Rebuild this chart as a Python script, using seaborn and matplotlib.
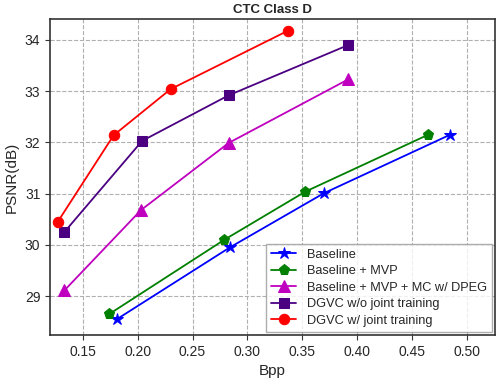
import numpy as np
import pandas as pd
import matplotlib
matplotlib.use('Agg')
import matplotlib.pyplot as plt
import seaborn as sns

# datos
names = ['Baseline', 'Baseline + MVP', 'Baseline + MVP + MC w/ DPEG',
         'DGVC w/o joint training', 'DGVC w/ joint training']

bpp_base = [0.181, 0.284, 0.370, 0.485]
psnr_base = [28.55, 29.95, 31.01, 32.15]

bpp_mvp = [0.174, 0.279, 0.353, 0.465]
psnr_mvp = [28.65, 30.10, 31.04, 32.15]

bpp_mc = [0.133, 0.203, 0.283, 0.392]
psnr_mc = [29.11, 30.68, 31.99, 33.23]

bpp_wo = [0.133, 0.204, 0.283, 0.392]
psnr_wo = [30.25, 32.03, 32.92, 33.90]

bpp_w = [0.127, 0.178, 0.230, 0.337]
psnr_w = [30.45, 32.14, 33.04, 34.18]

colores = ['blue', 'green', 'm', 'indigo', 'red']
marcadores = ['*', 'p', '^', 's', 'o']
tamanos = [9, 8, 8, 7, 7.5]

series = [(bpp_base, psnr_base), (bpp_mvp, psnr_mvp), (bpp_mc, psnr_mc),
          (bpp_wo, psnr_wo), (bpp_w, psnr_w)]

sns.set_style('ticks')
plt.rcParams['font.family'] = ['Liberation Sans', 'DejaVu Sans']

fig = plt.figure(figsize=(4.96, 3.79), dpi=100)
ax = fig.add_axes([0.101, 0.116, 0.897, 0.834])

for (x, y), name, c, m, s in zip(series, names, colores, marcadores, tamanos):
    sns.lineplot(x=x, y=y, ax=ax, color=c, marker=m, markersize=s,
                 markeredgecolor=c, label=name, linewidth=1.3, sort=False)

ax.set_xlim(0.12, 0.526)
ax.set_ylim(28.24, 34.41)
ax.set_xticks([0.15, 0.20, 0.25, 0.30, 0.35, 0.40, 0.45, 0.50])
ax.set_yticks([29, 30, 31, 32, 33, 34])
ax.grid(True, linestyle='--', color='#b0b0b0', linewidth=0.8)
ax.tick_params(labelsize=10, length=3.5, color='#333333')
for sp in ax.spines.values():
    sp.set_color('#333333')
    sp.set_linewidth(1.2)

ax.set_xlabel('Bpp', fontsize=11)
ax.set_ylabel('PSNR(dB)', fontsize=11)
ax.set_title('CTC Class D', fontsize=9.5, fontweight='bold', pad=4)

leg = ax.legend(loc='lower right', fontsize=9.2, frameon=True, fancybox=False,
                borderaxespad=0.25, handlelength=2.0, labelspacing=0.35)
leg.get_frame().set_edgecolor('#999999')

fig.savefig('out.png', dpi=100)
